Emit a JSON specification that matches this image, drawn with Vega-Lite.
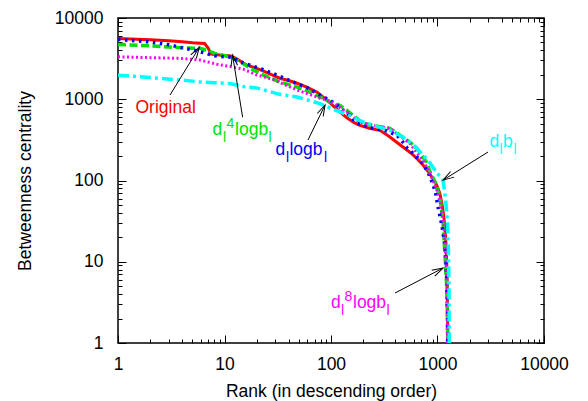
{
  "$schema": "https://vega.github.io/schema/vega-lite/v6.json",
  "width": 426,
  "height": 325,
  "autosize": "none",
  "padding": {"left": 118, "top": 18, "right": 44, "bottom": 58},
  "background": "white",
  "config": {
    "view": {"stroke": "#000", "strokeWidth": 1.5},
    "font": "Liberation Sans",
    "axis": {
      "grid": false,
      "domain": false,
      "tickColor": "#000",
      "tickWidth": 1,
      "labelFont": "Liberation Sans",
      "labelFontSize": 17.5,
      "labelColor": "#000",
      "labelFlush": false,
      "labelOverlap": false,
      "titleFont": "Liberation Sans",
      "titleFontSize": 17.5,
      "titleFontWeight": "normal",
      "titleColor": "#000"
    },
    "text": {"font": "Liberation Sans", "fontSize": 17.5}
  },
  "datasets": {
    "curves": [
      {"series": "original", "rank": 1, "bc": 5600}, {"series": "original", "rank": 2, "bc": 5400}, {"series": "original", "rank": 3, "bc": 5250}, {"series": "original", "rank": 4, "bc": 5100}, {"series": "original", "rank": 5, "bc": 4950}, {"series": "original", "rank": 6.5, "bc": 4850}, {"series": "original", "rank": 7, "bc": 4300}, {"series": "original", "rank": 7.5, "bc": 3600}, {"series": "original", "rank": 9, "bc": 3500}, {"series": "original", "rank": 11.5, "bc": 3400}, {"series": "original", "rank": 13, "bc": 3150}, {"series": "original", "rank": 16, "bc": 2650}, {"series": "original", "rank": 20, "bc": 2400}, {"series": "original", "rank": 23, "bc": 2235}, {"series": "original", "rank": 28, "bc": 2000}, {"series": "original", "rank": 33, "bc": 1815}, {"series": "original", "rank": 40, "bc": 1700}, {"series": "original", "rank": 48, "bc": 1576}, {"series": "original", "rank": 60, "bc": 1400}, {"series": "original", "rank": 74, "bc": 1219}, {"series": "original", "rank": 85, "bc": 1050}, {"series": "original", "rank": 98, "bc": 900}, {"series": "original", "rank": 115, "bc": 740}, {"series": "original", "rank": 141, "bc": 590}, {"series": "original", "rank": 165, "bc": 515}, {"series": "original", "rank": 187, "bc": 477}, {"series": "original", "rank": 230, "bc": 440}, {"series": "original", "rank": 288, "bc": 414}, {"series": "original", "rank": 350, "bc": 350}, {"series": "original", "rank": 417, "bc": 294}, {"series": "original", "rank": 495, "bc": 248}, {"series": "original", "rank": 570, "bc": 215}, {"series": "original", "rank": 642, "bc": 185}, {"series": "original", "rank": 731, "bc": 155}, {"series": "original", "rank": 820, "bc": 128}, {"series": "original", "rank": 907, "bc": 105}, {"series": "original", "rank": 980, "bc": 88}, {"series": "original", "rank": 1050, "bc": 70}, {"series": "original", "rank": 1100, "bc": 52}, {"series": "original", "rank": 1140, "bc": 38}, {"series": "original", "rank": 1175, "bc": 26}, {"series": "original", "rank": 1200, "bc": 17}, {"series": "original", "rank": 1220, "bc": 10}, {"series": "original", "rank": 1235, "bc": 5}, {"series": "original", "rank": 1245, "bc": 2.5}, {"series": "original", "rank": 1250, "bc": 0.5},

      {"series": "d4logb", "rank": 1, "bc": 4730}, {"series": "d4logb", "rank": 2, "bc": 4550}, {"series": "d4logb", "rank": 3, "bc": 4400}, {"series": "d4logb", "rank": 4, "bc": 4300}, {"series": "d4logb", "rank": 5.9, "bc": 4230}, {"series": "d4logb", "rank": 7, "bc": 3950}, {"series": "d4logb", "rank": 8.1, "bc": 3664}, {"series": "d4logb", "rank": 11.7, "bc": 3272}, {"series": "d4logb", "rank": 14.9, "bc": 2750}, {"series": "d4logb", "rank": 18, "bc": 2350}, {"series": "d4logb", "rank": 23, "bc": 2000}, {"series": "d4logb", "rank": 33, "bc": 1636}, {"series": "d4logb", "rank": 48, "bc": 1416}, {"series": "d4logb", "rank": 67.7, "bc": 1177}, {"series": "d4logb", "rank": 98, "bc": 930}, {"series": "d4logb", "rank": 121, "bc": 841}, {"series": "d4logb", "rank": 141, "bc": 731}, {"series": "d4logb", "rank": 170, "bc": 600}, {"series": "d4logb", "rank": 200, "bc": 506}, {"series": "d4logb", "rank": 260, "bc": 470}, {"series": "d4logb", "rank": 357, "bc": 438}, {"series": "d4logb", "rank": 477, "bc": 339}, {"series": "d4logb", "rank": 560, "bc": 290}, {"series": "d4logb", "rank": 642, "bc": 248}, {"series": "d4logb", "rank": 720, "bc": 200}, {"series": "d4logb", "rank": 790, "bc": 167}, {"series": "d4logb", "rank": 850, "bc": 128}, {"series": "d4logb", "rank": 950, "bc": 95}, {"series": "d4logb", "rank": 1055, "bc": 62}, {"series": "d4logb", "rank": 1127, "bc": 30}, {"series": "d4logb", "rank": 1176, "bc": 12}, {"series": "d4logb", "rank": 1220, "bc": 5}, {"series": "d4logb", "rank": 1240, "bc": 2}, {"series": "d4logb", "rank": 1250, "bc": 0.5},

      {"series": "dlogb", "rank": 1, "bc": 5460}, {"series": "dlogb", "rank": 1.9, "bc": 5095}, {"series": "dlogb", "rank": 3, "bc": 4700}, {"series": "dlogb", "rank": 4, "bc": 4300}, {"series": "dlogb", "rank": 5.6, "bc": 3919}, {"series": "dlogb", "rank": 8.1, "bc": 3425}, {"series": "dlogb", "rank": 11.7, "bc": 3272}, {"series": "dlogb", "rank": 14, "bc": 2890}, {"series": "dlogb", "rank": 21.6, "bc": 2392}, {"series": "dlogb", "rank": 28.5, "bc": 2077}, {"series": "dlogb", "rank": 44, "bc": 1636}, {"series": "dlogb", "rank": 60, "bc": 1380}, {"series": "dlogb", "rank": 78.7, "bc": 1122}, {"series": "dlogb", "rank": 98, "bc": 972}, {"series": "dlogb", "rank": 120, "bc": 800}, {"series": "dlogb", "rank": 141, "bc": 672}, {"series": "dlogb", "rank": 176, "bc": 506}, {"series": "dlogb", "rank": 248, "bc": 438}, {"series": "dlogb", "rank": 330, "bc": 410}, {"series": "dlogb", "rank": 417, "bc": 360}, {"series": "dlogb", "rank": 470, "bc": 300}, {"series": "dlogb", "rank": 521, "bc": 250}, {"series": "dlogb", "rank": 642, "bc": 194}, {"series": "dlogb", "rank": 731, "bc": 162}, {"series": "dlogb", "rank": 822, "bc": 123}, {"series": "dlogb", "rank": 907, "bc": 90}, {"series": "dlogb", "rank": 960, "bc": 70}, {"series": "dlogb", "rank": 1010, "bc": 47.5}, {"series": "dlogb", "rank": 1100, "bc": 28}, {"series": "dlogb", "rank": 1180, "bc": 15}, {"series": "dlogb", "rank": 1220, "bc": 6}, {"series": "dlogb", "rank": 1245, "bc": 2}, {"series": "dlogb", "rank": 1250, "bc": 0.5},

      {"series": "d8logb", "rank": 1, "bc": 3333}, {"series": "d8logb", "rank": 2, "bc": 3250}, {"series": "d8logb", "rank": 4, "bc": 3180}, {"series": "d8logb", "rank": 5.9, "bc": 3034}, {"series": "d8logb", "rank": 8.5, "bc": 2700}, {"series": "d8logb", "rank": 11.7, "bc": 2500}, {"series": "d8logb", "rank": 15, "bc": 2350}, {"series": "d8logb", "rank": 20, "bc": 2000}, {"series": "d8logb", "rank": 28.5, "bc": 1750}, {"series": "d8logb", "rank": 48, "bc": 1300}, {"series": "d8logb", "rank": 79, "bc": 1030}, {"series": "d8logb", "rank": 98, "bc": 945}, {"series": "d8logb", "rank": 140, "bc": 700}, {"series": "d8logb", "rank": 187, "bc": 520}, {"series": "d8logb", "rank": 260, "bc": 470}, {"series": "d8logb", "rank": 357, "bc": 438}, {"series": "d8logb", "rank": 450, "bc": 350}, {"series": "d8logb", "rank": 550, "bc": 287}, {"series": "d8logb", "rank": 640, "bc": 220}, {"series": "d8logb", "rank": 731, "bc": 176}, {"series": "d8logb", "rank": 820, "bc": 135}, {"series": "d8logb", "rank": 907, "bc": 100}, {"series": "d8logb", "rank": 980, "bc": 78}, {"series": "d8logb", "rank": 1055, "bc": 57}, {"series": "d8logb", "rank": 1151, "bc": 27.6}, {"series": "d8logb", "rank": 1202, "bc": 10.2}, {"series": "d8logb", "rank": 1230, "bc": 3.3}, {"series": "d8logb", "rank": 1250, "bc": 0.5},

      {"series": "db", "rank": 1, "bc": 1977}, {"series": "db", "rank": 2, "bc": 1850}, {"series": "db", "rank": 4, "bc": 1717}, {"series": "db", "rank": 5.9, "bc": 1636}, {"series": "db", "rank": 8, "bc": 1600}, {"series": "db", "rank": 11.5, "bc": 1550}, {"series": "db", "rank": 15, "bc": 1430}, {"series": "db", "rank": 20, "bc": 1380}, {"series": "db", "rank": 33, "bc": 1150}, {"series": "db", "rank": 48, "bc": 1067}, {"series": "db", "rank": 78.7, "bc": 885}, {"series": "db", "rank": 98, "bc": 780}, {"series": "db", "rank": 145, "bc": 640}, {"series": "db", "rank": 190, "bc": 540}, {"series": "db", "rank": 248, "bc": 477}, {"series": "db", "rank": 357, "bc": 414}, {"series": "db", "rank": 440, "bc": 360}, {"series": "db", "rank": 521, "bc": 314}, {"series": "db", "rank": 620, "bc": 260}, {"series": "db", "rank": 731, "bc": 205}, {"series": "db", "rank": 850, "bc": 165}, {"series": "db", "rank": 983, "bc": 125}, {"series": "db", "rank": 1060, "bc": 112}, {"series": "db", "rank": 1127, "bc": 100}, {"series": "db", "rank": 1180, "bc": 65}, {"series": "db", "rank": 1240, "bc": 32}, {"series": "db", "rank": 1270, "bc": 12}, {"series": "db", "rank": 1285, "bc": 4}, {"series": "db", "rank": 1290, "bc": 0.5}
    ],
    "notes": [
      {"note": "original", "rank": 1.46, "bc": 677},
      {"note": "d4logb", "rank": 7.72, "bc": 363},
      {"note": "dlogb", "rank": 30.1, "bc": 206},
      {"note": "db", "rank": 3076, "bc": 261},
      {"note": "d8logb", "rank": 100, "bc": 2.7}
    ],
    "arrows": [
      {"note": "original", "rank": 3.08, "bc": 1128, "tipRank": 5.8, "tipBc": 4357},
      {"note": "d4logb", "rank": 14.8, "bc": 600, "tipRank": 11.9, "tipBc": 3505},
      {"note": "dlogb", "rank": 60.8, "bc": 315, "tipRank": 87.9, "tipBc": 849},
      {"note": "db", "rank": 2980, "bc": 224, "tipRank": 1127, "tipBc": 101},
      {"note": "d8logb", "rank": 399, "bc": 4.12, "tipRank": 1127, "tipBc": 8.37}
    ]
  },
  "resolve": {"axis": {"x": "independent", "y": "independent"}},
  "encoding": {
    "x": {"field": "rank", "type": "quantitative", "scale": {"type": "log", "domain": [1, 10000], "nice": false}, "axis": null},
    "y": {"field": "bc", "type": "quantitative", "scale": {"type": "log", "domain": [1, 10000], "nice": false}, "axis": null}
  },
  "layer": [
    {
      "data": {"name": "curves"},
      "transform": [{"filter": "datum.series === 'original'"}],
      "mark": {"type": "line", "color": "#ff0000", "strokeWidth": 3, "clip": true},
      "encoding": {
        "x": {"field": "rank", "type": "quantitative", "scale": {"type": "log", "domain": [1, 10000], "nice": false},
              "axis": {"orient": "bottom", "values": [1, 10, 100, 1000, 10000], "format": "d", "tickSize": -8, "labelPadding": 20, "title": "Rank (in descending order)", "titlePadding": 10}},
        "y": {"field": "bc", "type": "quantitative", "scale": {"type": "log", "domain": [1, 10000], "nice": false},
              "axis": {"orient": "left", "values": [1, 10, 100, 1000, 10000], "format": "d", "tickSize": -8, "labelPadding": 23, "title": "Betweenness centrality", "titlePadding": 20}}
      }
    },
    {
      "data": {"name": "curves"},
      "transform": [{"filter": "datum.series === 'd4logb'"}],
      "mark": {"type": "line", "color": "#00e000", "strokeWidth": 3.5, "strokeDash": [8, 3.5], "clip": true},
      "encoding": {
        "x": {"field": "rank", "type": "quantitative", "scale": {"type": "log", "domain": [1, 10000], "nice": false},
              "axis": {"orient": "bottom", "values": [2, 3, 4, 5, 6, 7, 8, 9, 20, 30, 40, 50, 60, 70, 80, 90, 200, 300, 400, 500, 600, 700, 800, 900, 2000, 3000, 4000, 5000, 6000, 7000, 8000, 9000], "tickSize": -4, "labels": false, "title": null}},
        "y": {"field": "bc", "type": "quantitative", "scale": {"type": "log", "domain": [1, 10000], "nice": false},
              "axis": {"orient": "left", "values": [2, 3, 4, 5, 6, 7, 8, 9, 20, 30, 40, 50, 60, 70, 80, 90, 200, 300, 400, 500, 600, 700, 800, 900, 2000, 3000, 4000, 5000, 6000, 7000, 8000, 9000], "tickSize": -4, "labels": false, "title": null}}
      }
    },
    {
      "data": {"name": "curves"},
      "transform": [{"filter": "datum.series === 'dlogb'"}],
      "mark": {"type": "line", "color": "#0000ff", "strokeWidth": 3.5, "strokeDash": [2.5, 4.5], "clip": true},
      "encoding": {
        "x": {"field": "rank", "type": "quantitative", "scale": {"type": "log", "domain": [1, 10000], "nice": false},
              "axis": {"orient": "top", "values": [1, 10, 100, 1000, 10000], "tickSize": -8, "labels": false, "title": null}},
        "y": {"field": "bc", "type": "quantitative", "scale": {"type": "log", "domain": [1, 10000], "nice": false},
              "axis": {"orient": "right", "values": [1, 10, 100, 1000, 10000], "tickSize": -8, "labels": false, "title": null}}
      }
    },
    {
      "data": {"name": "curves"},
      "transform": [{"filter": "datum.series === 'd8logb'"}],
      "mark": {"type": "line", "color": "#ff00ff", "strokeWidth": 3, "strokeDash": [2, 2.5], "clip": true},
      "encoding": {
        "x": {"field": "rank", "type": "quantitative", "scale": {"type": "log", "domain": [1, 10000], "nice": false},
              "axis": {"orient": "top", "values": [2, 3, 4, 5, 6, 7, 8, 9, 20, 30, 40, 50, 60, 70, 80, 90, 200, 300, 400, 500, 600, 700, 800, 900, 2000, 3000, 4000, 5000, 6000, 7000, 8000, 9000], "tickSize": -4, "labels": false, "title": null}},
        "y": {"field": "bc", "type": "quantitative", "scale": {"type": "log", "domain": [1, 10000], "nice": false},
              "axis": {"orient": "right", "values": [2, 3, 4, 5, 6, 7, 8, 9, 20, 30, 40, 50, 60, 70, 80, 90, 200, 300, 400, 500, 600, 700, 800, 900, 2000, 3000, 4000, 5000, 6000, 7000, 8000, 9000], "tickSize": -4, "labels": false, "title": null}}
      }
    },
    {
      "data": {"name": "curves"},
      "transform": [{"filter": "datum.series === 'db'"}],
      "mark": {"type": "line", "color": "#00ffff", "strokeWidth": 3.5, "strokeDash": [11, 4, 3, 4], "clip": true}
    },
    {
      "data": {"name": "arrows"},
      "mark": {"type": "rule", "color": "#000", "strokeWidth": 1},
      "encoding": {"x2": {"field": "tipRank"}, "y2": {"field": "tipBc"}}
    },
    {
      "data": {"name": "arrows"},
      "transform": [{"filter": "datum.note === 'original'"}],
      "mark": {"type": "point", "shape": "M -1 -0.3 L 0 0 L -1 0.3", "size": 484, "angle": 301.6, "filled": false, "color": "#000", "strokeWidth": 1, "opacity": 1},
      "encoding": {"x": {"field": "tipRank", "type": "quantitative", "axis": null}, "y": {"field": "tipBc", "type": "quantitative", "axis": null}}
    },
    {
      "data": {"name": "arrows"},
      "transform": [{"filter": "datum.note === 'd4logb'"}],
      "mark": {"type": "point", "shape": "M -1 -0.3 L 0 0 L -1 0.3", "size": 484, "angle": 260.9, "filled": false, "color": "#000", "strokeWidth": 1, "opacity": 1},
      "encoding": {"x": {"field": "tipRank", "type": "quantitative", "axis": null}, "y": {"field": "tipBc", "type": "quantitative", "axis": null}}
    },
    {
      "data": {"name": "arrows"},
      "transform": [{"filter": "datum.note === 'dlogb'"}],
      "mark": {"type": "point", "shape": "M -1 -0.3 L 0 0 L -1 0.3", "size": 484, "angle": 295.9, "filled": false, "color": "#000", "strokeWidth": 1, "opacity": 1},
      "encoding": {"x": {"field": "tipRank", "type": "quantitative", "axis": null}, "y": {"field": "tipBc", "type": "quantitative", "axis": null}}
    },
    {
      "data": {"name": "arrows"},
      "transform": [{"filter": "datum.note === 'db'"}],
      "mark": {"type": "point", "shape": "M -1 -0.3 L 0 0 L -1 0.3", "size": 484, "angle": 148.1, "filled": false, "color": "#000", "strokeWidth": 1, "opacity": 1},
      "encoding": {"x": {"field": "tipRank", "type": "quantitative", "axis": null}, "y": {"field": "tipBc", "type": "quantitative", "axis": null}}
    },
    {
      "data": {"name": "arrows"},
      "transform": [{"filter": "datum.note === 'd8logb'"}],
      "mark": {"type": "point", "shape": "M -1 -0.3 L 0 0 L -1 0.3", "size": 484, "angle": 332.5, "filled": false, "color": "#000", "strokeWidth": 1, "opacity": 1},
      "encoding": {"x": {"field": "tipRank", "type": "quantitative", "axis": null}, "y": {"field": "tipBc", "type": "quantitative", "axis": null}}
    },

    {"data": {"name": "notes"}, "transform": [{"filter": "datum.note === 'original'"}],
     "mark": {"type": "text", "text": "Original", "align": "left", "baseline": "alphabetic", "fontSize": 17.5, "color": "#ff0000"}},

    {"data": {"name": "notes"}, "transform": [{"filter": "datum.note === 'd4logb'"}],
     "mark": {"type": "text", "text": "d", "align": "left", "baseline": "alphabetic", "fontSize": 17.5, "color": "#00e000"}},
    {"data": {"name": "notes"}, "transform": [{"filter": "datum.note === 'd4logb'"}],
     "mark": {"type": "text", "text": "l", "align": "left", "baseline": "alphabetic", "fontSize": 14, "dx": 10.5, "dy": 7, "color": "#00e000"}},
    {"data": {"name": "notes"}, "transform": [{"filter": "datum.note === 'd4logb'"}],
     "mark": {"type": "text", "text": "4", "align": "left", "baseline": "alphabetic", "fontSize": 14, "dx": 14, "dy": -7, "color": "#00e000"}},
    {"data": {"name": "notes"}, "transform": [{"filter": "datum.note === 'd4logb'"}],
     "mark": {"type": "text", "text": "logb", "align": "left", "baseline": "alphabetic", "fontSize": 17.5, "dx": 22.5, "color": "#00e000"}},
    {"data": {"name": "notes"}, "transform": [{"filter": "datum.note === 'd4logb'"}],
     "mark": {"type": "text", "text": "l", "align": "left", "baseline": "alphabetic", "fontSize": 14, "dx": 56, "dy": 7, "color": "#00e000"}},

    {"data": {"name": "notes"}, "transform": [{"filter": "datum.note === 'dlogb'"}],
     "mark": {"type": "text", "text": "d", "align": "left", "baseline": "alphabetic", "fontSize": 17.5, "color": "#0000ff"}},
    {"data": {"name": "notes"}, "transform": [{"filter": "datum.note === 'dlogb'"}],
     "mark": {"type": "text", "text": "l", "align": "left", "baseline": "alphabetic", "fontSize": 14, "dx": 10.5, "dy": 7, "color": "#0000ff"}},
    {"data": {"name": "notes"}, "transform": [{"filter": "datum.note === 'dlogb'"}],
     "mark": {"type": "text", "text": "logb", "align": "left", "baseline": "alphabetic", "fontSize": 17.5, "dx": 14, "color": "#0000ff"}},
    {"data": {"name": "notes"}, "transform": [{"filter": "datum.note === 'dlogb'"}],
     "mark": {"type": "text", "text": "l", "align": "left", "baseline": "alphabetic", "fontSize": 14, "dx": 48.5, "dy": 7, "color": "#0000ff"}},

    {"data": {"name": "notes"}, "transform": [{"filter": "datum.note === 'db'"}],
     "mark": {"type": "text", "text": "d", "align": "left", "baseline": "alphabetic", "fontSize": 17.5, "color": "#00ffff"}},
    {"data": {"name": "notes"}, "transform": [{"filter": "datum.note === 'db'"}],
     "mark": {"type": "text", "text": "l", "align": "left", "baseline": "alphabetic", "fontSize": 14, "dx": 10, "dy": 7, "color": "#00ffff"}},
    {"data": {"name": "notes"}, "transform": [{"filter": "datum.note === 'db'"}],
     "mark": {"type": "text", "text": "b", "align": "left", "baseline": "alphabetic", "fontSize": 17.5, "dx": 13.5, "color": "#00ffff"}},
    {"data": {"name": "notes"}, "transform": [{"filter": "datum.note === 'db'"}],
     "mark": {"type": "text", "text": "l", "align": "left", "baseline": "alphabetic", "fontSize": 14, "dx": 24, "dy": 7, "color": "#00ffff"}},

    {"data": {"name": "notes"}, "transform": [{"filter": "datum.note === 'd8logb'"}],
     "mark": {"type": "text", "text": "d", "align": "left", "baseline": "alphabetic", "fontSize": 17.5, "color": "#ff00ff"}},
    {"data": {"name": "notes"}, "transform": [{"filter": "datum.note === 'd8logb'"}],
     "mark": {"type": "text", "text": "l", "align": "left", "baseline": "alphabetic", "fontSize": 14, "dx": 10, "dy": 7, "color": "#ff00ff"}},
    {"data": {"name": "notes"}, "transform": [{"filter": "datum.note === 'd8logb'"}],
     "mark": {"type": "text", "text": "8", "align": "left", "baseline": "alphabetic", "fontSize": 14, "dx": 13.5, "dy": -7, "color": "#ff00ff"}},
    {"data": {"name": "notes"}, "transform": [{"filter": "datum.note === 'd8logb'"}],
     "mark": {"type": "text", "text": "logb", "align": "left", "baseline": "alphabetic", "fontSize": 17.5, "dx": 22, "color": "#ff00ff"}},
    {"data": {"name": "notes"}, "transform": [{"filter": "datum.note === 'd8logb'"}],
     "mark": {"type": "text", "text": "l", "align": "left", "baseline": "alphabetic", "fontSize": 14, "dx": 55.5, "dy": 7, "color": "#ff00ff"}}
  ]
}
